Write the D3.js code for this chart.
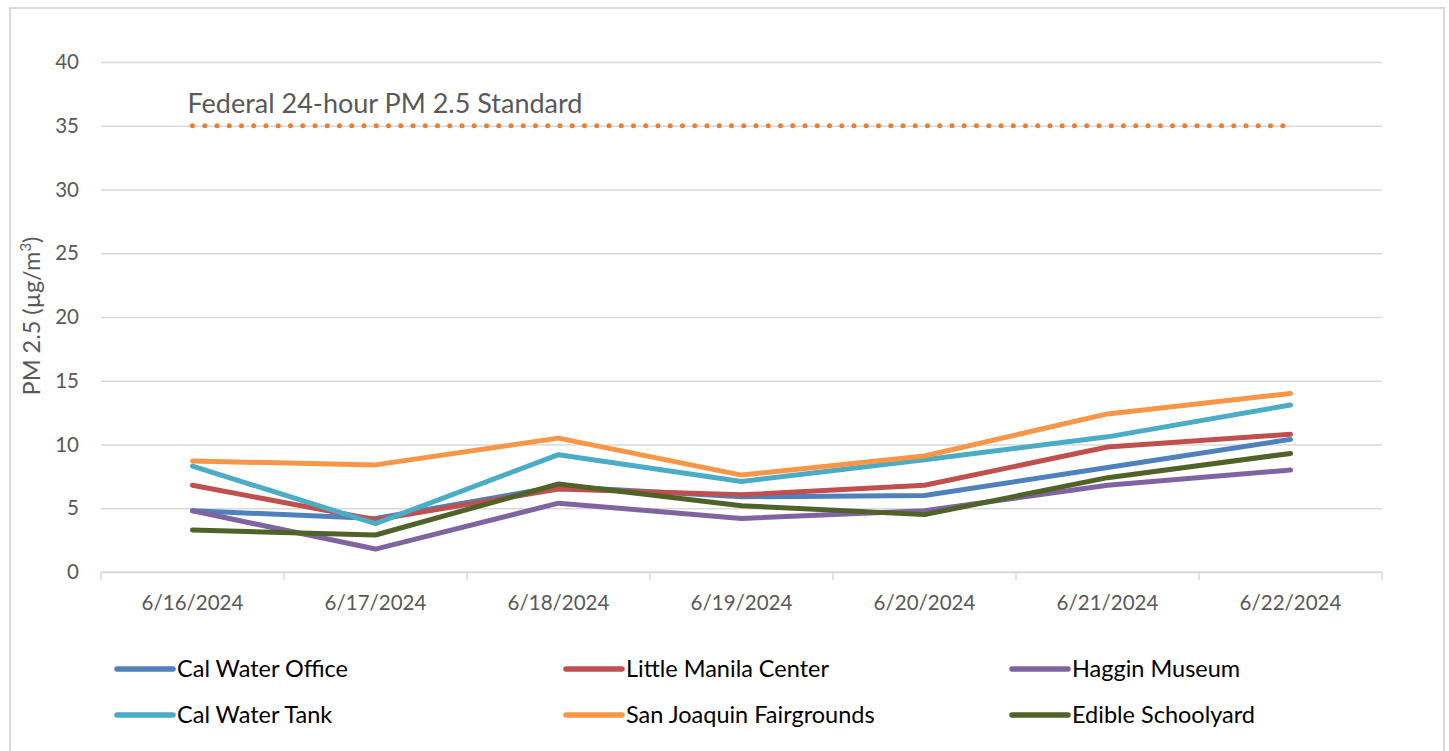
<!DOCTYPE html>
<html>
<head>
<meta charset="utf-8">
<script src="https://cdn.jsdelivr.net/npm/d3@7"></script>
<style>
  body { margin: 0; background: #fff; }
  text { font-family: Lato, "Open Sans", sans-serif; }
</style>
</head>
<body>
<script>
// values
var dates = ["6/16/2024", "6/17/2024", "6/18/2024", "6/19/2024", "6/20/2024", "6/21/2024", "6/22/2024"];
var yTicks = [0, 5, 10, 15, 20, 25, 30, 35, 40];

var calWaterOffice = [4.8, 4.2, 6.7, 5.9, 6.0, 8.2, 10.4];
var littleManila = [6.8, 4.1, 6.5, 6.05, 6.8, 9.8, 10.8];
var hagginMuseum = [4.8, 1.8, 5.4, 4.2, 4.8, 6.8, 8.0];
var calWaterTank = [8.3, 3.8, 9.2, 7.1, 8.8, 10.6, 13.1];
var sanJoaquin = [8.7, 8.4, 10.5, 7.6, 9.1, 12.4, 14.0];
var edibleSchoolyard = [3.3, 2.9, 6.9, 5.2, 4.5, 7.4, 9.3];

var standardValue = 35;
var standardLabel = "Federal 24-hour PM 2.5 Standard";

var seriesNames = ["Cal Water Office", "Little Manila Center", "Haggin Museum",
                   "Cal Water Tank", "San Joaquin Fairgrounds", "Edible Schoolyard"];
var seriesValues = [calWaterOffice, littleManila, hagginMuseum, calWaterTank, sanJoaquin, edibleSchoolyard];
var seriesColors = ["#4F81BD", "#C0504D", "#8064A2", "#4BACC6", "#F79646", "#4F6228"];

var width = 1449, height = 751;
var plotLeft = 101, plotRight = 1382, plotTop = 62, plotBottom = 572;

var svg = d3.select("body").append("svg")
    .attr("width", width)
    .attr("height", height);

// chart border
svg.append("rect")
    .attr("x", 10).attr("y", 8)
    .attr("width", 1434).attr("height", 760)
    .attr("fill", "#fff")
    .attr("stroke", "#d9d9d9")
    .attr("stroke-width", 2);

var x = d3.scaleBand().domain(dates).range([plotLeft, plotRight]).padding(0);
var y = d3.scaleLinear().domain([0, 40]).range([plotBottom, plotTop]);
var cx = function(d) { return x(d) + x.bandwidth() / 2; };

// gridlines + y labels
var yAxis = d3.axisLeft(y).tickValues(yTicks).tickSize(-(plotRight - plotLeft)).tickPadding(22);
var gy = svg.append("g").attr("transform", "translate(" + plotLeft + ",0)").call(yAxis);
gy.select(".domain").remove();
gy.selectAll(".tick line").attr("stroke", "#d9d9d9").attr("stroke-width", 1.5);
gy.selectAll(".tick text")
    .attr("fill", "#595959")
    .style("font-size", "20.5px");

// x axis with ticks between categories
var gx = svg.append("g").attr("transform", "translate(0," + plotBottom + ")");
gx.append("line")
    .attr("x1", plotLeft).attr("x2", plotRight)
    .attr("stroke", "#d9d9d9").attr("stroke-width", 1.5);
gx.selectAll(".xtick")
    .data(dates.concat(["end"]))
    .enter().append("line")
    .attr("class", "xtick")
    .attr("x1", function(d, i) { return plotLeft + i * x.bandwidth(); })
    .attr("x2", function(d, i) { return plotLeft + i * x.bandwidth(); })
    .attr("y1", 0).attr("y2", 8)
    .attr("stroke", "#d9d9d9").attr("stroke-width", 1.5);
gx.selectAll(".xlabel")
    .data(dates)
    .enter().append("text")
    .attr("class", "xlabel")
    .attr("x", cx)
    .attr("y", 38)
    .attr("text-anchor", "middle")
    .attr("fill", "#595959")
    .style("font-size", "20.5px")
    .text(function(d) { return d; });

// y axis title
var yt = svg.append("text")
    .attr("transform", "translate(40," + 316 + ") rotate(-90)")
    .attr("text-anchor", "middle")
    .attr("fill", "#595959")
    .style("font-size", "23.5px");
yt.append("tspan").text("PM 2.5 (µg/m");
yt.append("tspan").attr("dy", -9).style("font-size", "15px").text("3");
yt.append("tspan").attr("dy", 9).text(")");

// standard line
svg.append("line")
    .attr("x1", cx(dates[0])).attr("x2", cx(dates[dates.length - 1]))
    .attr("y1", y(standardValue)).attr("y2", y(standardValue))
    .attr("stroke", "#ED7D31")
    .attr("stroke-width", 5)
    .attr("stroke-linecap", "round")
    .attr("stroke-dasharray", "0 12.25");
svg.append("text")
    .attr("x", cx(dates[0]) - 5)
    .attr("y", y(standardValue) - 13)
    .attr("fill", "#595959")
    .style("font-size", "27px")
    .text(standardLabel);

// series lines
var line = d3.line()
    .x(function(d, i) { return cx(dates[i]); })
    .y(function(d) { return y(d); });

svg.selectAll(".series")
    .data(seriesValues)
    .enter().append("path")
    .attr("class", "series")
    .attr("d", line)
    .attr("fill", "none")
    .attr("stroke", function(d, i) { return seriesColors[i]; })
    .attr("stroke-width", 5)
    .attr("stroke-linejoin", "round")
    .attr("stroke-linecap", "round");

// legend
var legendCols = [117, 566, 1012];
var legendRows = [669, 715];
var lg = svg.selectAll(".legend")
    .data(seriesNames)
    .enter().append("g")
    .attr("class", "legend")
    .attr("transform", function(d, i) {
      return "translate(" + legendCols[i % 3] + "," + legendRows[Math.floor(i / 3)] + ")";
    });
lg.append("line")
    .attr("x1", 0).attr("x2", 56)
    .attr("stroke", function(d, i) { return seriesColors[i]; })
    .attr("stroke-width", 5.5)
    .attr("stroke-linecap", "round");
lg.append("text")
    .attr("x", 60)
    .attr("y", 8)
    .attr("fill", "#000")
    .style("font-size", "23.5px")
    .text(function(d) { return d; });
</script>
</body>
</html>
